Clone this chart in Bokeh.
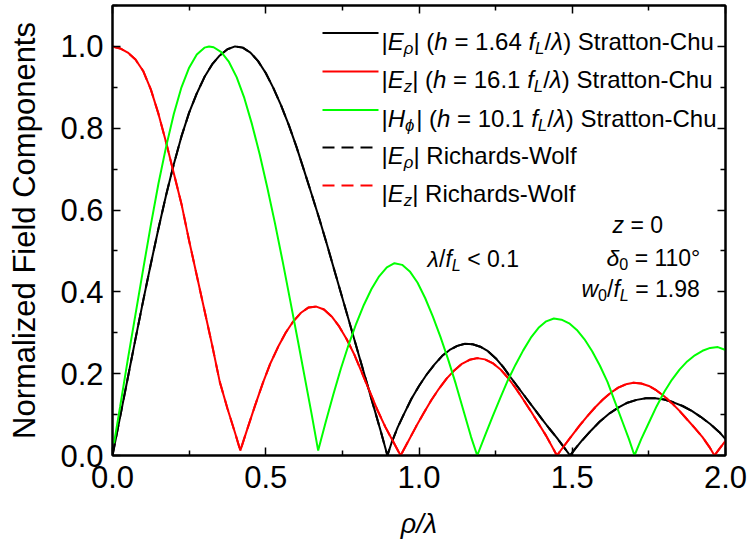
from bokeh.plotting import figure
from bokeh.models import LinearAxis, FixedTicker, PrintfTickFormatter, Label, Arrow, Range1d
from bokeh.embed import file_html
from bokeh.resources import INLINE

# ---- data: normalized field magnitudes versus rho/lambda ----
# |E_rho|, Stratton-Chu (h = 1.64 f_L/lambda)
x_erho = [0.0, 0.025, 0.05, 0.075, 0.10, 0.125, 0.15, 0.175, 0.20, 0.225, 0.25, 0.275,
          0.30, 0.325, 0.35, 0.375, 0.40, 0.425, 0.45, 0.475, 0.50, 0.525, 0.55, 0.575,
          0.60, 0.625, 0.65, 0.675, 0.70, 0.725, 0.75, 0.775, 0.80, 0.825, 0.85, 0.875,
          0.897, 0.91, 0.93, 0.95, 0.975, 1.0, 1.025, 1.05, 1.075, 1.10, 1.125, 1.15,
          1.175, 1.20, 1.225, 1.25, 1.275, 1.30, 1.325, 1.35, 1.375, 1.40, 1.425, 1.45,
          1.475, 1.493, 1.51, 1.53, 1.56, 1.59, 1.62, 1.65, 1.68, 1.71, 1.74, 1.77, 1.80,
          1.83, 1.86, 1.89, 1.92, 1.95, 1.98, 2.0]
y_erho = [0.0, 0.095, 0.19, 0.285, 0.378, 0.468, 0.555, 0.637, 0.712, 0.78, 0.838, 0.885,
          0.925, 0.956, 0.978, 0.993, 1.0, 0.997, 0.985, 0.964, 0.935, 0.898, 0.856, 0.808,
          0.755, 0.697, 0.638, 0.578, 0.515, 0.45, 0.385, 0.32, 0.255, 0.19, 0.125, 0.06,
          0.0, 0.03, 0.068, 0.10, 0.138, 0.17, 0.198, 0.222, 0.243, 0.258, 0.268, 0.273,
          0.272, 0.266, 0.255, 0.238, 0.216, 0.19, 0.165, 0.14, 0.115, 0.09, 0.066, 0.043,
          0.018, 0.0, 0.017, 0.035, 0.06, 0.083, 0.102, 0.117, 0.129, 0.136, 0.14, 0.14, 0.137,
          0.13, 0.121, 0.109, 0.094, 0.077, 0.057, 0.04]

# |E_z|, Stratton-Chu (h = 16.1 f_L/lambda)
x_ez = [0.0, 0.025, 0.05, 0.075, 0.10, 0.125, 0.15, 0.175, 0.20, 0.225, 0.25, 0.275,
        0.30, 0.325, 0.35, 0.375, 0.40, 0.417, 0.44, 0.465, 0.491, 0.515, 0.54, 0.565,
        0.59, 0.615, 0.64, 0.665, 0.69, 0.715, 0.74, 0.765, 0.79, 0.815, 0.84, 0.865,
        0.89, 0.915, 0.94, 0.965, 0.99, 1.015, 1.04, 1.065, 1.09, 1.115, 1.14, 1.165,
        1.19, 1.215, 1.24, 1.265, 1.29, 1.315, 1.34, 1.365, 1.39, 1.415, 1.45, 1.475,
        1.50, 1.525, 1.55, 1.575, 1.60, 1.625, 1.65, 1.675, 1.70, 1.725, 1.75, 1.775,
        1.80, 1.825, 1.85, 1.875, 1.90, 1.925, 1.95, 1.964, 1.98, 2.0]
y_ez = [1.0, 0.995, 0.985, 0.968, 0.94, 0.895, 0.835, 0.765, 0.69, 0.615, 0.525, 0.44,
        0.355, 0.27, 0.18, 0.115, 0.055, 0.012, 0.065, 0.122, 0.178, 0.225, 0.265, 0.30,
        0.328, 0.349, 0.362, 0.364, 0.357, 0.34, 0.315, 0.283, 0.245, 0.20, 0.155, 0.11,
        0.07, 0.035, 0.0, 0.035, 0.07, 0.103, 0.135, 0.163, 0.188, 0.208, 0.224, 0.234,
        0.238, 0.235, 0.226, 0.211, 0.19, 0.165, 0.137, 0.108, 0.078, 0.048, 0.0, 0.025,
        0.05, 0.074, 0.097, 0.118, 0.137, 0.153, 0.166, 0.174, 0.178, 0.176, 0.17, 0.159,
        0.145, 0.128, 0.109, 0.088, 0.067, 0.045, 0.018, 0.0, 0.016, 0.036]

# |H_phi|, Stratton-Chu (h = 10.1 f_L/lambda)
x_hphi = [0.005, 0.025, 0.05, 0.075, 0.10, 0.125, 0.15, 0.175, 0.20, 0.225, 0.25, 0.275,
          0.30, 0.315, 0.33, 0.355, 0.38, 0.405, 0.43, 0.455, 0.48, 0.505, 0.53, 0.555,
          0.58, 0.605, 0.63, 0.65, 0.671, 0.695, 0.72, 0.745, 0.77, 0.795, 0.82, 0.845,
          0.87, 0.895, 0.92, 0.945, 0.97, 0.995, 1.02, 1.045, 1.07, 1.095, 1.12, 1.145,
          1.17, 1.19, 1.215, 1.24, 1.265, 1.29, 1.315, 1.34, 1.365, 1.39, 1.415, 1.44,
          1.465, 1.49, 1.515, 1.54, 1.565, 1.59, 1.615, 1.64, 1.665, 1.685, 1.703, 1.725,
          1.75, 1.775, 1.80, 1.825, 1.85, 1.875, 1.90, 1.925, 1.95, 1.975, 2.0]
y_hphi = [0.03, 0.12, 0.235, 0.345, 0.455, 0.563, 0.665, 0.755, 0.835, 0.90, 0.948, 0.98,
          0.997, 1.0, 0.998, 0.986, 0.962, 0.925, 0.874, 0.81, 0.737, 0.655, 0.568, 0.475,
          0.378, 0.28, 0.18, 0.10, 0.012, 0.08, 0.148, 0.212, 0.27, 0.322, 0.368, 0.407,
          0.438, 0.46, 0.47, 0.466, 0.45, 0.423, 0.385, 0.34, 0.29, 0.235, 0.175, 0.11,
          0.045, 0.0, 0.048, 0.095, 0.14, 0.184, 0.222, 0.257, 0.288, 0.312, 0.328, 0.335,
          0.332, 0.323, 0.307, 0.284, 0.255, 0.22, 0.18, 0.13, 0.08, 0.04, 0.0, 0.04,
          0.08, 0.12, 0.155, 0.185, 0.21, 0.23, 0.245, 0.256, 0.263, 0.265, 0.258]

# Richards-Wolf results coincide with the Stratton-Chu curves at this scale
x_erho_rw, y_erho_rw = x_erho, y_erho
x_ez_rw, y_ez_rw = x_ez, y_ez

x_major = [0.0, 0.5, 1.0, 1.5, 2.0]
x_minor = [0.25, 0.75, 1.25, 1.75]
y_major = [0.0, 0.2, 0.4, 0.6, 0.8, 1.0]
y_minor = [0.1, 0.3, 0.5, 0.7, 0.9, 1.1]

BLACK, RED, GREEN = "#000000", "#ff0000", "#00ff00"
FONT = "Liberation Sans"

FL, FT, FW, FH = 112, 5, 613, 450      # frame placement on the canvas
FB = FT + FH

p = figure(frame_width=FW, frame_height=FH,
           x_range=Range1d(0, 2.0), y_range=Range1d(0, 1.1),
           output_backend="svg", toolbar_location=None,
           min_border_left=FL, min_border_right=750 - FL - FW,
           min_border_top=FT, min_border_bottom=546 - FB,
           x_axis_label="ρ/λ", y_axis_label="Normalized Field Components",
           background_fill_color="white", border_fill_color="white")
p.grid.visible = False
p.outline_line_color = "black"
p.outline_line_width = 2

bottom = p.below[0]
left = p.left[0]

xt = FixedTicker(ticks=x_major, minor_ticks=x_minor)
yt = FixedTicker(ticks=y_major, minor_ticks=y_minor)
bottom.ticker = xt
left.ticker = yt
bottom.formatter = PrintfTickFormatter(format="%.1f")
left.formatter = PrintfTickFormatter(format="%.1f")

top = LinearAxis(ticker=xt, major_label_overrides={v: "" for v in x_major},
                 major_label_text_font_size="1px", major_label_standoff=0)
right = LinearAxis(ticker=yt, major_label_overrides={v: "" for v in y_major},
                   major_label_text_font_size="1px", major_label_standoff=0)
p.add_layout(top, "above")
p.add_layout(right, "right")

for ax in [bottom, left, top, right]:
    ax.major_tick_in = 8
    ax.major_tick_out = 0
    ax.minor_tick_in = 5
    ax.minor_tick_out = 0
    ax.axis_line_width = 2
    ax.major_tick_line_width = 1.5
    ax.minor_tick_line_width = 1.5
    ax.axis_line_color = "black"
    ax.major_tick_line_color = "black"
    ax.minor_tick_line_color = "black"

for ax in [bottom, left]:
    ax.major_label_text_font = FONT
    ax.major_label_text_font_size = "31px"
    ax.major_label_text_color = "black"
    ax.axis_label_text_font = FONT
    ax.axis_label_text_color = "black"
bottom.major_label_standoff = 10
left.major_label_standoff = 9
bottom.axis_label_text_font_size = "27px"
bottom.axis_label_text_font_style = "italic"
bottom.axis_label_standoff = 18
left.axis_label_text_font_size = "31px"
left.axis_label_text_font_style = "normal"
left.axis_label_standoff = 15

# curves
p.line(x_erho_rw, y_erho_rw, line_color=BLACK, line_width=2, line_dash="12 7")
p.line(x_ez_rw, y_ez_rw, line_color=RED, line_width=2, line_dash="12 7")
p.line(x_erho, y_erho, line_color=BLACK, line_width=2)
p.line(x_ez, y_ez, line_color=RED, line_width=2)
p.line(x_hphi, y_hphi, line_color=GREEN, line_width=2)

# ---- rich text helpers (italic runs and subscripts) ----
ADV = {" ": .278, "(": .333, ")": .333, "|": .26, "/": .278, "=": .584, ".": .278,
       "<": .584, "°": .4, "-": .333, "E": .667, "H": .722, "L": .556, "S": .667,
       "C": .722, "R": .722, "W": .944, "a": .556, "c": .5, "d": .556, "f": .278,
       "h": .556, "i": .222, "l": .222, "n": .556, "o": .556, "r": .333, "s": .5,
       "t": .278, "u": .556, "w": .722, "z": .5, "ρ": .578, "λ": .5, "δ": .556,
       "ϕ": .66}


def width(s, size):
    return sum(ADV.get(c, .556) for c in s) * size


def rich(runs, px, py, size):
    """Place runs of (text, italic, subscript) from canvas point (px, baseline py)."""
    x = px - FL
    base = FB - py
    for txt, italic, sub in runs:
        fs = size * 0.7 if sub else size
        y = base - size * 0.3 if sub else base
        core = txt.strip(" ")
        x += (len(txt) - len(txt.lstrip(" "))) * ADV[" "] * fs
        p.add_layout(Label(x=x, y=y, x_units="screen", y_units="screen", text=core,
                           text_font=FONT, text_font_size=f"{fs:.1f}px",
                           text_font_style="italic" if italic else "normal",
                           text_baseline="alphabetic", text_align="left",
                           text_color="black"))
        x += width(core, fs) + (len(txt) - len(txt.rstrip(" "))) * ADV[" "] * fs


LEG = 24
legend_rows = [
    (BLACK, None, [("|", 0, 0), ("E", 1, 0), ("ρ", 1, 1), ("| (", 0, 0), ("h", 1, 0),
                   (" = 1.64 ", 0, 0), ("f", 1, 0), ("L", 1, 1), ("/", 0, 0), ("λ", 1, 0),
                   (") Stratton-Chu", 0, 0)]),
    (RED, None, [("|", 0, 0), ("E", 1, 0), ("z", 1, 1), ("| (", 0, 0), ("h", 1, 0),
                 (" = 16.1 ", 0, 0), ("f", 1, 0), ("L", 1, 1), ("/", 0, 0), ("λ", 1, 0),
                 (") Stratton-Chu", 0, 0)]),
    (GREEN, None, [("|", 0, 0), ("H", 1, 0), ("ϕ", 1, 1), ("| (", 0, 0), ("h", 1, 0),
                   (" = 10.1 ", 0, 0), ("f", 1, 0), ("L", 1, 1), ("/", 0, 0), ("λ", 1, 0),
                   (") Stratton-Chu", 0, 0)]),
    (BLACK, "12 7", [("|", 0, 0), ("E", 1, 0), ("ρ", 1, 1), ("| Richards-Wolf", 0, 0)]),
    (RED, "12 7", [("|", 0, 0), ("E", 1, 0), ("z", 1, 1), ("| Richards-Wolf", 0, 0)]),
]
row_y = [32.5, 71, 109.5, 147, 185]
for (color, dash, runs), ly in zip(legend_rows, row_y):
    arrow = Arrow(end=None, x_start=322 - FL, y_start=FB - ly, x_end=378 - FL, y_end=FB - ly,
                  start_units="screen", end_units="screen", line_color=color, line_width=2)
    if dash:
        arrow.line_dash = dash
    p.add_layout(arrow)
    rich(runs, 381, ly + 8, LEG)

ANN = 23
rich([("λ", 1, 0), ("/", 0, 0), ("f", 1, 0), ("L", 1, 1), (" < 0.1", 0, 0)], 427, 258, ANN)
rich([("z", 1, 0), (" = 0", 0, 0)], 612, 224, ANN)
rich([("δ", 1, 0), ("0", 0, 1), (" = 110°", 0, 0)], 606, 257, ANN)
rich([("w", 1, 0), ("0", 0, 1), ("/", 0, 0), ("f", 1, 0), ("L", 1, 1), (" = 1.98", 0, 0)],
     581, 288, ANN)

open("out.html", "w").write(file_html(p, INLINE))
